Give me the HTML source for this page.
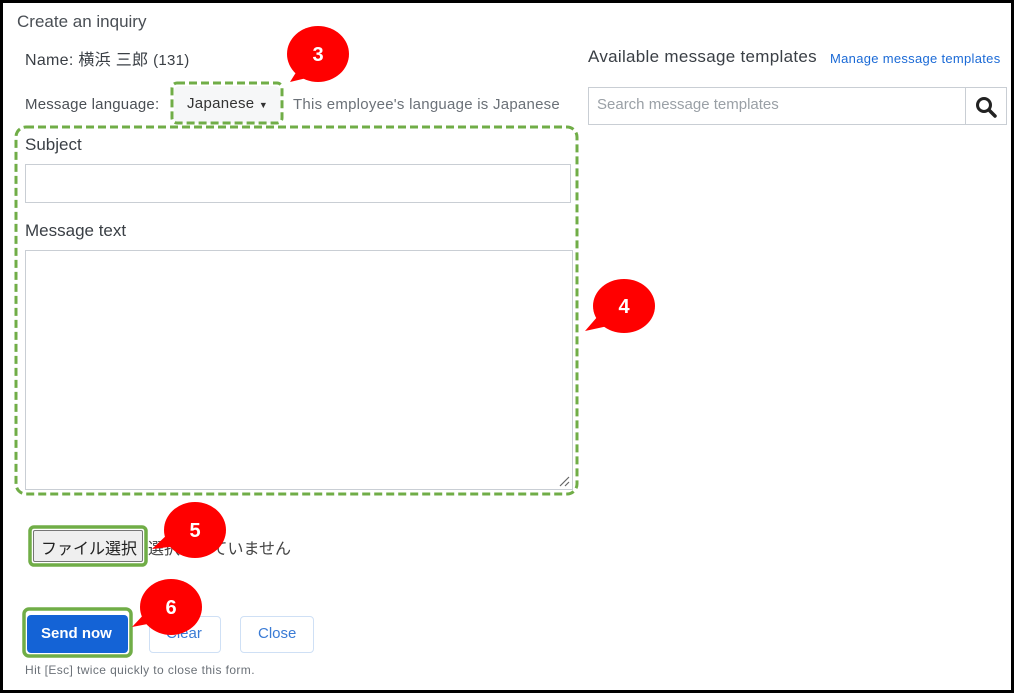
<!DOCTYPE html>
<html><head><meta charset="utf-8"><style>
*{margin:0;padding:0;box-sizing:border-box}
body{width:1014px;height:693px;background:#fff;position:relative;overflow:hidden;font-family:"Liberation Sans","Noto Sans CJK JP",sans-serif;color:#3a3f45}
.a{position:absolute;white-space:nowrap}
.box{position:absolute;border:1px solid #c9ced4;background:#fff}
</style></head><body>
<div class="a" style="left:0;top:0;width:1014px;height:693px;border:3px solid #000"></div>
<div class="a" style="left:17px;top:12px;font-size:17px;color:#4a4f55">Create an inquiry</div>
<div class="a" style="left:25px;top:46px;font-size:16px;letter-spacing:0.3px">Name: 横浜 三郎 <span style="font-size:15px">(131)</span></div>
<div class="a" style="left:25px;top:96px;font-size:15px;letter-spacing:0.2px;color:#4a4f55">Message language:</div>
<div class="a" style="left:174px;top:86px;width:106px;height:37px;background:#f6f7f8;border-radius:5px"></div>
<div class="a" style="left:187px;top:95px;font-size:15px;color:#333;letter-spacing:0.3px">Japanese <span style="font-size:9px">▼</span></div>
<div class="a" style="left:293px;top:96px;font-size:15px;letter-spacing:0.25px;color:#6b7178">This employee's language is Japanese</div>
<div class="a" style="left:588px;top:47px;font-size:17px;letter-spacing:0.3px">Available message templates</div>
<div class="a" style="left:830px;top:51px;font-size:13px;letter-spacing:0.3px;color:#1b6ad6">Manage message templates</div>
<div class="box" style="left:588px;top:87px;width:419px;height:38px"></div>
<div class="a" style="left:965px;top:87px;width:1px;height:38px;background:#c9ced4"></div>
<div class="a" style="left:597px;top:96px;font-size:15px;color:#9aa0a6">Search message templates</div>
<svg class="a" style="left:974px;top:95px" width="24" height="24" viewBox="0 0 24 24"><circle cx="10" cy="10" r="6.5" fill="none" stroke="#222" stroke-width="3"/><line x1="15" y1="15" x2="21" y2="21" stroke="#222" stroke-width="3.5" stroke-linecap="round"/></svg>
<div class="a" style="left:25px;top:135px;font-size:17px">Subject</div>
<div class="box" style="left:25px;top:164px;width:546px;height:39px"></div>
<div class="a" style="left:25px;top:221px;font-size:17px">Message text</div>
<div class="box" style="left:25px;top:250px;width:548px;height:240px"></div>
<svg class="a" style="left:557px;top:474px" width="14" height="14"><line x1="3" y1="12" x2="12" y2="3" stroke="#666" stroke-width="1.2"/><line x1="8" y1="12" x2="12" y2="8" stroke="#666" stroke-width="1.2"/></svg>
<div class="a" style="left:33px;top:530px;width:110px;height:32px;background:#efefef;border:1px solid #767676;border-radius:2px"></div>
<div class="a" style="left:41px;top:535px;font-size:16px;color:#222">ファイル選択</div>
<div class="a" style="left:148px;top:535px;font-size:16px;color:#444">選択されていません</div>
<div class="a" style="left:27px;top:615px;width:101px;height:38px;background:#1463d6;border-radius:4px"></div>
<div class="a" style="left:41px;top:625px;font-size:15px;color:#fff;font-weight:bold">Send now</div>
<div class="a" style="left:149px;top:616px;width:72px;height:37px;border:1px solid #cfe0f5;border-radius:4px"></div>
<div class="a" style="left:166px;top:625px;font-size:15px;color:#3a7bd5">Clear</div>
<div class="a" style="left:240px;top:616px;width:74px;height:37px;border:1px solid #cfe0f5;border-radius:4px"></div>
<div class="a" style="left:258px;top:625px;font-size:15px;color:#3a7bd5">Close</div>
<div class="a" style="left:25px;top:663px;font-size:12px;letter-spacing:0.4px;color:#6b7178">Hit [Esc] twice quickly to close this form.</div>
<svg class="a" style="left:0;top:0" width="1014" height="693">
<g fill="none" stroke="#70ad47" stroke-width="3" stroke-dasharray="8,4">
<rect x="172" y="83" width="110" height="40" rx="5"/>
<rect x="16" y="127" width="561" height="367" rx="10"/>
</g>
<g fill="none" stroke="#70ad47" stroke-width="3.5">
<rect x="30" y="527" width="116" height="38" rx="4"/>
<rect x="24" y="609" width="107" height="47" rx="5"/>
</g>
<g fill="#ff0000">
<ellipse cx="318" cy="54" rx="31" ry="28"/><polygon points="290,82 300,66 315,76"/>
<ellipse cx="624" cy="306" rx="31" ry="27"/><polygon points="585,331 598,316 608,326"/>
<ellipse cx="195" cy="530" rx="31" ry="28"/><polygon points="152,549 170,532 178,546"/>
<ellipse cx="171" cy="607" rx="31" ry="28"/><polygon points="132,627 148,610 158,622"/>
</g>
<g fill="#fff" font-family="Liberation Sans" font-weight="bold" font-size="20" text-anchor="middle">
<text x="318" y="61">3</text><text x="624" y="313">4</text><text x="195" y="537">5</text><text x="171" y="614">6</text>
</g>
</svg>
</body></html>
